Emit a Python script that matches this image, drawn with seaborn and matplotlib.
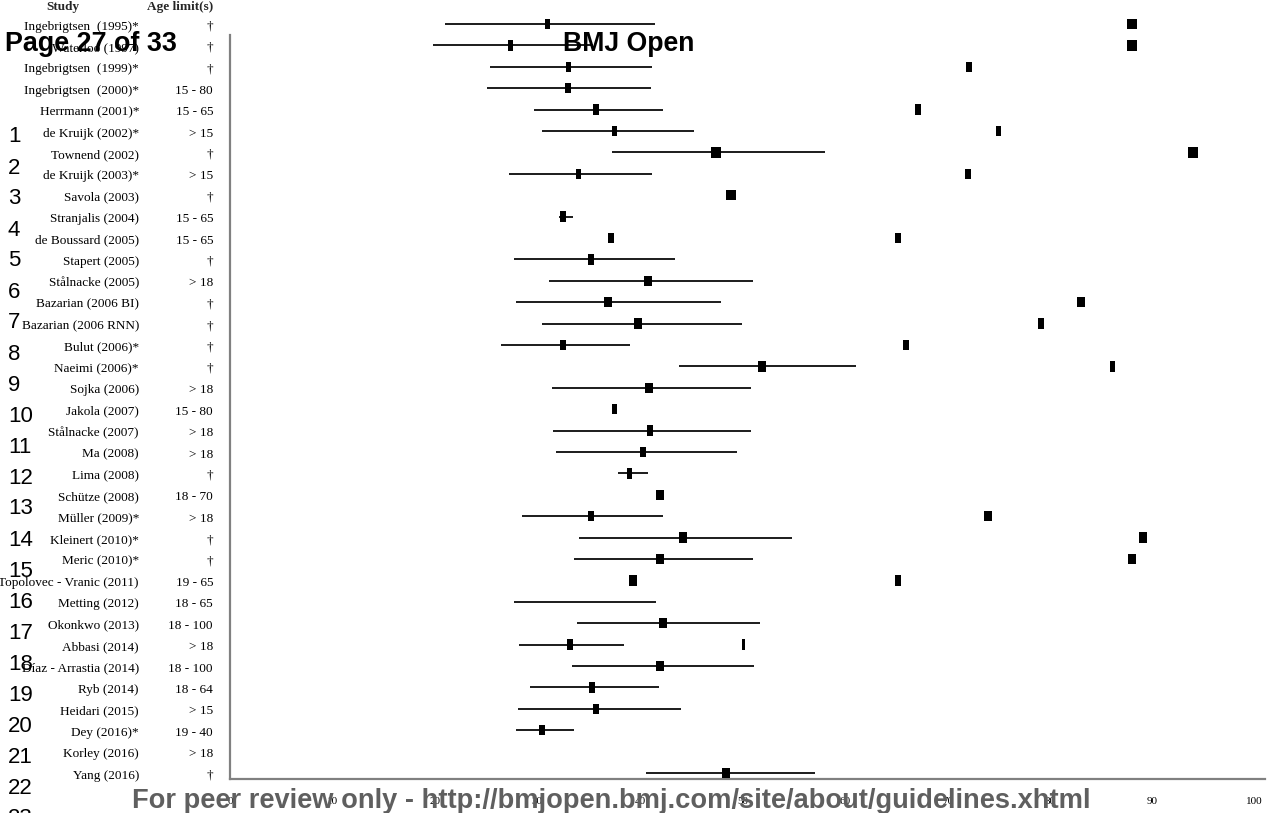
import numpy as np
import pandas as pd
import seaborn as sns
import matplotlib
matplotlib.use("Agg")
from matplotlib import pyplot as plt
from matplotlib.transforms import blended_transform_factory

studies = [
    "Ingebrigtsen  (1995)*", "Waterloo (1997)", "Ingebrigtsen  (1999)*", "Ingebrigtsen  (2000)*",
    "Herrmann (2001)*", "de Kruijk (2002)*", "Townend (2002)", "de Kruijk (2003)*", "Savola (2003)",
    "Stranjalis (2004)", "de Boussard (2005)", "Stapert (2005)", "Stålnacke (2005)",
    "Bazarian (2006 BI)", "Bazarian (2006 RNN)", "Bulut (2006)*", "Naeimi (2006)*", "Sojka (2006)",
    "Jakola (2007)", "Stålnacke (2007)", "Ma (2008)", "Lima (2008)", "Schütze (2008)",
    "Müller (2009)*", "Kleinert (2010)*", "Meric (2010)*", "Topolovec - Vranic (2011)",
    "Metting (2012)", "Okonkwo (2013)", "Abbasi (2014)", "Díaz - Arrastia (2014)", "Ryb (2014)",
    "Heidari (2015)", "Dey (2016)*", "Korley (2016)", "Yang (2016)",
]
ages = [
    "†", "†", "†", "15 - 80", "15 - 65", "> 15", "†", "> 15", "†", "15 - 65", "15 - 65", "†",
    "> 18", "†", "†", "†", "†", "> 18", "15 - 80", "> 18", "> 18", "†", "18 - 70", "> 18",
    "†", "†", "19 - 65", "18 - 65", "18 - 100", "> 18", "18 - 100", "18 - 64", "> 15",
    "19 - 40", "> 18", "†",
]
ci_low = [21.0, 19.8, 25.4, 25.1, 29.7, 30.4, 37.3, 27.2, None, 32.1, None, 27.7, 31.1,
          27.9, 30.4, 26.4, 43.8, 31.4, None, 31.5, 31.8, 37.9, None, 28.5, 34.1, 33.6,
          None, 27.7, 33.9, 28.2, 33.4, 29.3, 28.1, 27.9, None, 40.6]
estimate = [31.0, 27.4, 33.0, 33.0, 35.7, 37.5, 47.4, 34.0, 48.9, 32.5, 37.2, 35.2, 40.8,
            36.9, 39.8, 32.5, 51.9, 40.9, 37.5, 41.0, 40.3, 39.0, 42.0, 35.2, 44.2, 42.0,
            39.3, None, 42.3, 33.2, 42.0, 35.3, 35.7, 30.4, None, 48.4]
ci_high = [41.5, 35.4, 41.2, 41.1, 42.3, 45.3, 58.1, 41.2, None, 33.5, None, 43.4, 51.0,
           47.9, 50.0, 39.0, 61.1, 50.8, None, 50.8, 49.5, 40.8, None, 42.3, 54.8, 51.0,
           None, 41.6, 51.7, 38.4, 51.1, 41.9, 44.0, 33.6, None, 57.1]
# study weight, shown as the width of the box
weight = [5, 5, 5, 6, 6, 5, 10, 5, 11, 6, 6, 6, 8, 8, 8, 6, 8, 8, 5, 6, 6, 5, 8, 6, 8, 8,
          8, None, 8, 6, 8, 6, 6, 6, None, 8]
# second value reported per study (right hand boxes)
second_value = [88.0, 88.0, 72.1, None, 67.1, 75.0, 94.0, 72.0, None, None, 65.2, None, None,
                83.0, 79.1, 66.0, 86.1, None, None, None, None, None, None, 74.0, 89.1, 88.0,
                65.2, None, None, 50.1, None, None, None, None, None, None]
second_weight = [10, 10, 6, None, 6, 5, 10, 6, None, None, 6, None, None, 8, 6, 6, 5, None,
                 None, None, None, None, None, 8, 8, 8, 6, None, None, 3, None, None, None,
                 None, None, None]

W, H = 1272, 813
sns.set_theme(style="white")
plt.rcParams["font.family"] = ["Liberation Serif", "DejaVu Serif"]

fig = plt.figure(figsize=(W / 100, H / 100), dpi=100)
ax = fig.add_axes([230 / W, 1 - 779 / H, (1265 - 230) / W, (779 - 35) / H])

df = pd.DataFrame({"study": studies, "age": ages, "lo": ci_low, "est": estimate, "hi": ci_high,
                   "w": weight, "v2": second_value, "w2": second_weight})
df["row"] = np.arange(len(df))

BOX_H = 10.5  # box height in px


def box(wpx):
    a = min(wpx / BOX_H, 1.0)
    return [(-a, -1), (a, -1), (a, 1), (-a, 1), (-a, -1)]


ci = df.dropna(subset=["lo", "hi"])
ax.hlines(ci["row"], ci["lo"], ci["hi"], color="black", lw=1.25, clip_on=False, zorder=2)

pts = df.dropna(subset=["est"]).copy()
pts["w"] = pts["w"].astype(int)
sns.scatterplot(data=pts, x="est", y="row", style="w",
                markers={w: box(w) for w in pts["w"].unique()},
                s=(BOX_H * 0.72) ** 2, color="black", edgecolor="none", linewidth=0,
                legend=False, ax=ax, clip_on=False, zorder=3)

sec = df.dropna(subset=["v2"]).copy()
sec["w2"] = sec["w2"].astype(int)
sns.scatterplot(data=sec, x="v2", y="row", style="w2",
                markers={w: box(w) for w in sec["w2"].unique()},
                s=(BOX_H * 0.72) ** 2, color="black", edgecolor="none", linewidth=0,
                legend=False, ax=ax, clip_on=False, zorder=3)

ax.set_xlim(0, 101)
ax.set_ylim((779 - 24) / 21.4, (35 - 24) / 21.4)
ax.set_xticks(range(0, 101, 10))
ax.set_yticks([])
ax.set_xlabel("")
ax.set_ylabel("")
ax.tick_params(axis="x", length=0, labelsize=8, pad=13, labelcolor="black")
for side in ["top", "right"]:
    ax.spines[side].set_visible(False)
for side in ["left", "bottom"]:
    ax.spines[side].set_color("#808080")
    ax.spines[side].set_linewidth(1.6)

tr = blended_transform_factory(fig.transFigure, ax.transData)
for r, (s, a) in enumerate(zip(studies, ages)):
    ax.text(139 / W, r + 0.12, s, transform=tr, ha="right", va="center", fontsize=9.5, color="black")
    ax.text(213 / W, r + 0.12, a, transform=tr, ha="right", va="center", fontsize=9.5, color="black")

fig.text(63 / W, 1 - 7 / H, "Study", ha="center", va="center", fontsize=9.5, fontweight="bold")
fig.text(213 / W, 1 - 7 / H, "Age limit(s)", ha="right", va="center", fontsize=9.5, fontweight="bold")

# page overlay from the manuscript PDF
sans = ["Liberation Sans", "DejaVu Sans"]
fig.text(5 / W, 1 - 44 / H, "Page 27 of 33", ha="left", va="center", fontsize=19.4,
         fontweight="bold", family=sans, color="black")
fig.text(563 / W, 1 - 44 / H, "BMJ Open", ha="left", va="center", fontsize=19.2,
         fontweight="bold", family=sans, color="black")
for n in range(1, 24):
    fig.text(8 / W, 1 - (137 + (n - 1) * 31.0) / H, str(n), ha="left", va="center",
             fontsize=16, family=sans, color="black")
fig.text(611 / W, 1 - 801 / H, "For peer review only - http://bmjopen.bmj.com/site/about/guidelines.xhtml",
         ha="center", va="center", fontsize=19.6, fontweight="bold", family=sans, color="#5f5f5f")

fig.savefig("out.png", dpi=100)
